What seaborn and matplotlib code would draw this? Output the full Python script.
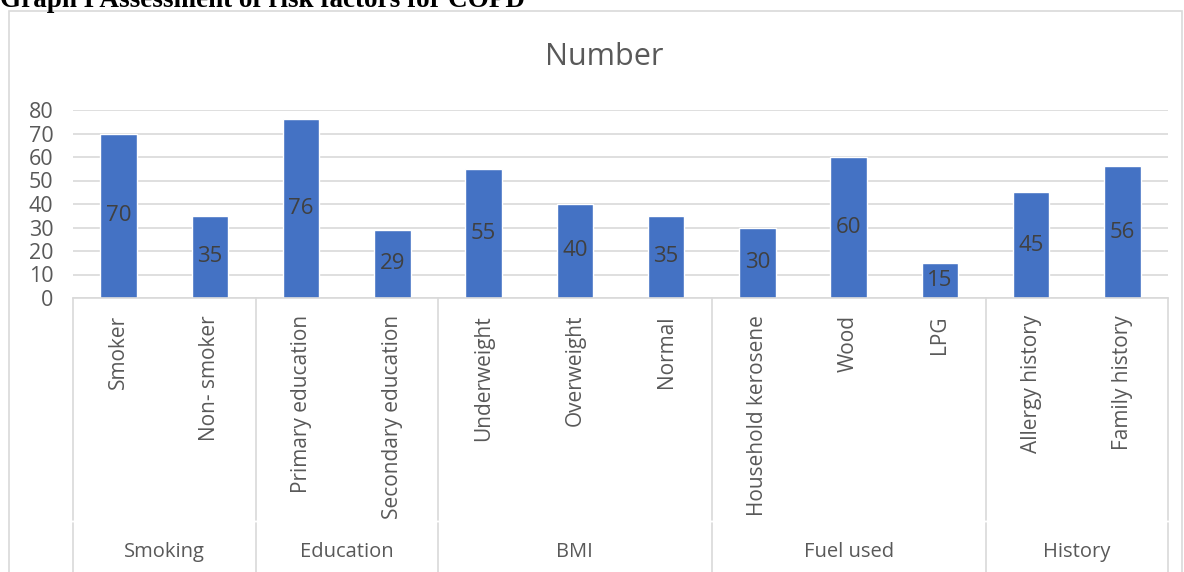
import matplotlib
matplotlib.use("Agg")
import matplotlib.pyplot as plt
import matplotlib.transforms as mtransforms
from matplotlib.patches import Rectangle
from matplotlib.lines import Line2D
import seaborn as sns
import pandas as pd

# ---- data ----
categories = ["Smoker", "Non- smoker", "Primary education", "Secondary education",
              "Underweight", "Overweight", "Normal", "Household kerosene", "Wood", "LPG",
              "Allergy history", "Family history"]
values = [70, 35, 76, 29, 55, 40, 35, 30, 60, 15, 45, 56]
groups = ["Smoking", "Education", "BMI", "Fuel used", "History"]
group_sizes = [2, 2, 3, 3, 2]
yticks = [0, 10, 20, 30, 40, 50, 60, 70, 80]

sns.set_style("white")
plt.rcParams["font.family"] = ["Open Sans", "DejaVu Sans"]

W, H = 1184, 572
fig = plt.figure(figsize=(W / 100, H / 100), dpi=100)
ax = fig.add_axes([73 / W, 1 - 298 / H, (1168 - 73) / W, (298 - 110) / H])

df = pd.DataFrame({"cat": categories, "val": values})
sns.barplot(data=df, x="cat", y="val", color="#4472C4", width=0.4,
            saturation=1, ax=ax, order=categories)

ax.set_ylim(0, 80)
ax.set_xlim(-0.5, len(categories) - 0.5)
ax.set_yticks(yticks)
ax.set_yticklabels([str(t) for t in yticks], fontsize=15.5, color="#595959")
ax.tick_params(axis="y", length=0, pad=14)
ax.tick_params(axis="x", length=0, labelbottom=False)
ax.set_xlabel("")
ax.set_ylabel("")
ax.yaxis.grid(True, color="#D9D9D9", linewidth=1.2)
ax.set_axisbelow(True)
for s in ["top", "right", "left"]:
    ax.spines[s].set_visible(False)
ax.spines["bottom"].set_color("#D9D9D9")
ax.spines["bottom"].set_linewidth(1.2)

# data labels in the middle of bars
for i, v in enumerate(values):
    ax.text(i, v / 2, str(v), ha="center", va="center", fontsize=16, color="#404040")

# category axis labels
trans = mtransforms.blended_transform_factory(ax.transData, fig.transFigure)
for i, c in enumerate(categories):
    ax.text(i, 1 - 315 / H, c, rotation=90, ha="center", va="top",
            fontsize=15, color="#595959", transform=trans, clip_on=False)

# group labels and separators
bounds = [-0.5]
for n in group_sizes:
    bounds.append(bounds[-1] + n)
for b in bounds:
    ax.add_line(Line2D([b, b], [1 - 298 / H, 1 - 520 / H], transform=trans,
                       color="#D9D9D9", linewidth=1.2, clip_on=False))
    ax.add_line(Line2D([b, b], [1 - 523 / H, 0], transform=trans,
                       color="#D9D9D9", linewidth=1.2, clip_on=False))
for g, a, b in zip(groups, bounds[:-1], bounds[1:]):
    ax.text((a + b) / 2, 1 - 552 / H, g, ha="center", va="center",
            fontsize=14.5, color="#595959", transform=trans, clip_on=False)

# chart title
fig.text(604 / W, 1 - 57 / H, "Number", ha="center", va="center",
         fontsize=22, color="#595959")

# chart border
fig.add_artist(Rectangle((9 / W, -0.01), (1182 - 9) / W, 1 - 11 / H + 0.01,
                         transform=fig.transFigure, fill=False,
                         edgecolor="#D9D9D9", linewidth=1.2))

# document caption, clipped at top
fig.text(0, 1 - 7 / H, "Graph I Assessment of risk factors for COPD",
         ha="left", va="baseline", fontsize=19.5, fontweight="bold",
         family=["Liberation Serif", "DejaVu Serif"], color="black")

fig.savefig("out.png", dpi=100)
